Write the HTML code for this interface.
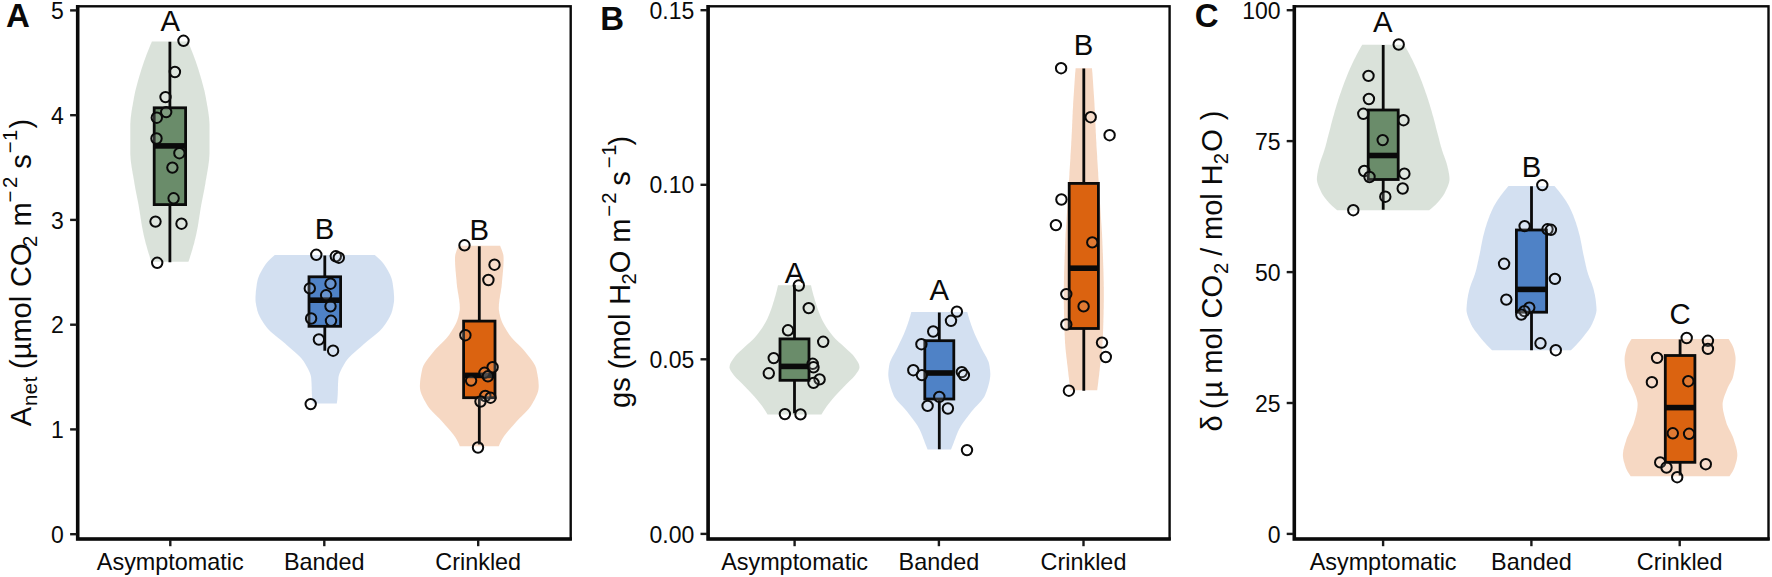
<!DOCTYPE html>
<html lang="en"><head><meta charset="utf-8"><title>Figure</title>
<style>html,body{margin:0;padding:0;background:#fff}svg{display:block}</style></head>
<body>
<svg width="1772" height="577" viewBox="0 0 1772 577" font-family="'Liberation Sans', Arial, sans-serif" fill="#0a0a0a">
<rect width="1772" height="577" fill="#fff"/>
<path d="M187.9,41.4 L188.5,42.9 L189.2,44.4 L189.8,45.9 L190.4,47.4 L191.0,48.9 L191.6,50.4 L192.2,51.9 L192.8,53.4 L193.4,54.9 L193.9,56.4 L194.5,57.9 L195.0,59.4 L195.6,60.9 L196.1,62.4 L196.6,63.9 L197.1,65.4 L197.6,66.9 L198.1,68.4 L198.6,69.9 L199.0,71.4 L199.5,72.9 L199.9,74.4 L200.4,75.9 L200.8,77.4 L201.3,78.9 L201.7,80.4 L202.1,81.9 L202.5,83.4 L202.9,84.9 L203.3,86.4 L203.7,87.9 L204.1,89.4 L204.5,90.9 L204.8,92.4 L205.1,93.9 L205.4,95.4 L205.7,96.9 L206.0,98.4 L206.2,99.9 L206.5,101.4 L206.8,102.9 L207.0,104.4 L207.3,105.9 L207.6,107.4 L207.8,108.9 L208.1,110.4 L208.3,111.9 L208.5,113.4 L208.7,114.9 L208.9,116.4 L209.1,117.9 L209.2,119.4 L209.3,120.9 L209.4,122.4 L209.5,123.9 L209.5,125.4 L209.5,126.9 L209.5,128.4 L209.5,129.9 L209.5,131.4 L209.5,132.9 L209.5,134.4 L209.5,135.9 L209.5,137.4 L209.5,138.9 L209.5,140.4 L209.5,141.9 L209.5,143.4 L209.5,144.9 L209.5,146.4 L209.5,147.9 L209.5,149.4 L209.5,150.9 L209.5,152.4 L209.5,153.9 L209.4,155.4 L209.3,156.9 L209.2,158.4 L209.1,159.9 L208.9,161.4 L208.7,162.9 L208.5,164.4 L208.3,165.9 L208.1,167.4 L207.8,168.9 L207.6,170.4 L207.3,171.9 L207.1,173.4 L206.8,174.9 L206.5,176.4 L206.3,177.9 L206.0,179.4 L205.7,180.9 L205.5,182.4 L205.3,183.9 L205.0,185.4 L204.7,186.9 L204.5,188.4 L204.2,189.9 L203.9,191.4 L203.6,192.9 L203.3,194.4 L203.0,195.9 L202.7,197.4 L202.4,198.9 L202.1,200.4 L201.8,201.9 L201.5,203.4 L201.2,204.9 L201.0,206.4 L200.7,207.9 L200.5,209.4 L200.2,210.9 L200.0,212.4 L199.8,213.9 L199.5,215.4 L199.3,216.9 L199.1,218.4 L198.8,219.9 L198.6,221.4 L198.4,222.9 L198.1,224.4 L197.9,225.9 L197.6,227.4 L197.3,228.9 L197.0,230.4 L196.7,231.9 L196.4,233.4 L196.1,234.9 L195.7,236.4 L195.4,237.9 L195.0,239.4 L194.6,240.9 L194.3,242.4 L193.9,243.9 L193.4,245.4 L193.0,246.9 L192.6,248.4 L192.2,249.9 L191.7,251.4 L191.3,252.9 L190.8,254.4 L190.3,255.9 L189.9,257.4 L189.4,258.9 L188.9,260.4 L188.4,261.8 L151.4,261.8 L150.9,260.4 L150.4,258.9 L149.9,257.4 L149.5,255.9 L149.0,254.4 L148.5,252.9 L148.1,251.4 L147.6,249.9 L147.2,248.4 L146.8,246.9 L146.4,245.4 L145.9,243.9 L145.5,242.4 L145.2,240.9 L144.8,239.4 L144.4,237.9 L144.1,236.4 L143.7,234.9 L143.4,233.4 L143.1,231.9 L142.8,230.4 L142.5,228.9 L142.2,227.4 L141.9,225.9 L141.7,224.4 L141.4,222.9 L141.2,221.4 L141.0,219.9 L140.7,218.4 L140.5,216.9 L140.3,215.4 L140.0,213.9 L139.8,212.4 L139.6,210.9 L139.3,209.4 L139.1,207.9 L138.8,206.4 L138.6,204.9 L138.3,203.4 L138.0,201.9 L137.7,200.4 L137.4,198.9 L137.1,197.4 L136.8,195.9 L136.5,194.4 L136.2,192.9 L135.9,191.4 L135.6,189.9 L135.3,188.4 L135.1,186.9 L134.8,185.4 L134.5,183.9 L134.3,182.4 L134.1,180.9 L133.8,179.4 L133.5,177.9 L133.3,176.4 L133.0,174.9 L132.7,173.4 L132.5,171.9 L132.2,170.4 L132.0,168.9 L131.7,167.4 L131.5,165.9 L131.3,164.4 L131.1,162.9 L130.9,161.4 L130.7,159.9 L130.6,158.4 L130.5,156.9 L130.4,155.4 L130.3,153.9 L130.3,152.4 L130.3,150.9 L130.3,149.4 L130.3,147.9 L130.3,146.4 L130.3,144.9 L130.3,143.4 L130.3,141.9 L130.3,140.4 L130.3,138.9 L130.3,137.4 L130.3,135.9 L130.3,134.4 L130.3,132.9 L130.3,131.4 L130.3,129.9 L130.3,128.4 L130.3,126.9 L130.3,125.4 L130.3,123.9 L130.4,122.4 L130.5,120.9 L130.6,119.4 L130.7,117.9 L130.9,116.4 L131.1,114.9 L131.3,113.4 L131.5,111.9 L131.7,110.4 L132.0,108.9 L132.2,107.4 L132.5,105.9 L132.8,104.4 L133.0,102.9 L133.3,101.4 L133.6,99.9 L133.8,98.4 L134.1,96.9 L134.4,95.4 L134.7,93.9 L135.0,92.4 L135.3,90.9 L135.7,89.4 L136.1,87.9 L136.5,86.4 L136.9,84.9 L137.3,83.4 L137.7,81.9 L138.1,80.4 L138.5,78.9 L139.0,77.4 L139.4,75.9 L139.9,74.4 L140.3,72.9 L140.8,71.4 L141.2,69.9 L141.7,68.4 L142.2,66.9 L142.7,65.4 L143.2,63.9 L143.7,62.4 L144.2,60.9 L144.8,59.4 L145.3,57.9 L145.9,56.4 L146.4,54.9 L147.0,53.4 L147.6,51.9 L148.2,50.4 L148.8,48.9 L149.4,47.4 L150.0,45.9 L150.6,44.4 L151.3,42.9 L151.9,41.4Z" fill="#6A8C6A" fill-opacity="0.25"/>
<path d="M374.8,255.1 L376.5,256.6 L378.2,258.1 L379.8,259.6 L381.3,261.1 L382.6,262.6 L383.8,264.1 L384.8,265.6 L385.8,267.1 L386.7,268.6 L387.6,270.1 L388.4,271.6 L389.2,273.1 L390.0,274.6 L390.6,276.1 L391.2,277.6 L391.7,279.1 L392.1,280.6 L392.4,282.1 L392.7,283.6 L392.9,285.1 L393.1,286.6 L393.3,288.1 L393.5,289.6 L393.7,291.1 L393.8,292.6 L393.9,294.1 L394.0,295.6 L394.1,297.1 L394.1,298.6 L394.1,300.1 L394.0,301.6 L393.8,303.1 L393.5,304.6 L393.3,306.1 L392.9,307.6 L392.6,309.1 L392.3,310.6 L391.8,312.1 L391.3,313.6 L390.6,315.1 L389.9,316.6 L389.1,318.1 L388.3,319.6 L387.3,321.1 L386.4,322.6 L385.4,324.1 L384.3,325.6 L383.2,327.1 L382.0,328.6 L380.6,330.1 L379.1,331.6 L377.4,333.1 L375.6,334.6 L373.8,336.1 L371.9,337.6 L370.0,339.1 L368.1,340.6 L366.3,342.1 L364.5,343.6 L362.9,345.1 L361.2,346.6 L359.5,348.1 L357.7,349.6 L356.0,351.1 L354.3,352.6 L352.6,354.1 L351.0,355.6 L349.5,357.1 L348.1,358.6 L346.9,360.1 L345.8,361.6 L344.9,363.1 L344.0,364.6 L343.2,366.1 L342.3,367.6 L341.5,369.1 L340.8,370.6 L340.1,372.1 L339.5,373.6 L339.0,375.1 L338.6,376.6 L338.4,378.1 L338.3,379.6 L338.2,381.1 L338.1,382.6 L338.0,384.1 L338.0,385.6 L337.9,387.1 L337.9,388.6 L337.9,390.1 L337.8,391.6 L337.8,393.1 L337.7,394.6 L337.6,396.1 L337.5,397.6 L337.4,399.1 L337.2,400.6 L337.0,402.1 L336.8,403.6 L336.8,403.6 L312.8,403.6 L312.8,403.6 L312.6,402.1 L312.4,400.6 L312.2,399.1 L312.1,397.6 L312.0,396.1 L311.9,394.6 L311.8,393.1 L311.8,391.6 L311.7,390.1 L311.7,388.6 L311.7,387.1 L311.6,385.6 L311.6,384.1 L311.5,382.6 L311.4,381.1 L311.3,379.6 L311.2,378.1 L311.0,376.6 L310.6,375.1 L310.1,373.6 L309.5,372.1 L308.8,370.6 L308.1,369.1 L307.3,367.6 L306.4,366.1 L305.6,364.6 L304.7,363.1 L303.8,361.6 L302.7,360.1 L301.5,358.6 L300.1,357.1 L298.6,355.6 L297.0,354.1 L295.3,352.6 L293.6,351.1 L291.9,349.6 L290.1,348.1 L288.4,346.6 L286.7,345.1 L285.1,343.6 L283.3,342.1 L281.5,340.6 L279.6,339.1 L277.7,337.6 L275.8,336.1 L274.0,334.6 L272.2,333.1 L270.5,331.6 L269.0,330.1 L267.6,328.6 L266.4,327.1 L265.3,325.6 L264.2,324.1 L263.2,322.6 L262.3,321.1 L261.3,319.6 L260.5,318.1 L259.7,316.6 L259.0,315.1 L258.3,313.6 L257.8,312.1 L257.3,310.6 L257.0,309.1 L256.7,307.6 L256.3,306.1 L256.1,304.6 L255.8,303.1 L255.6,301.6 L255.5,300.1 L255.5,298.6 L255.5,297.1 L255.6,295.6 L255.7,294.1 L255.8,292.6 L255.9,291.1 L256.1,289.6 L256.3,288.1 L256.5,286.6 L256.7,285.1 L256.9,283.6 L257.2,282.1 L257.5,280.6 L257.9,279.1 L258.4,277.6 L259.0,276.1 L259.6,274.6 L260.4,273.1 L261.2,271.6 L262.0,270.1 L262.9,268.6 L263.8,267.1 L264.8,265.6 L265.8,264.1 L267.0,262.6 L268.3,261.1 L269.8,259.6 L271.4,258.1 L273.1,256.6 L274.8,255.1Z" fill="#4F82C6" fill-opacity="0.25"/>
<path d="M500.1,245.8 L500.7,247.3 L501.3,248.8 L501.9,250.3 L502.4,251.8 L502.9,253.3 L503.3,254.8 L503.5,256.3 L503.6,257.8 L503.6,259.3 L503.6,260.8 L503.5,262.3 L503.5,263.8 L503.4,265.3 L503.3,266.8 L503.2,268.3 L503.1,269.8 L503.0,271.3 L502.8,272.8 L502.7,274.3 L502.6,275.8 L502.4,277.3 L502.3,278.8 L502.1,280.3 L502.0,281.8 L501.9,283.3 L501.7,284.8 L501.6,286.3 L501.4,287.8 L501.1,289.3 L500.9,290.8 L500.7,292.3 L500.4,293.8 L500.1,295.3 L499.9,296.8 L499.7,298.3 L499.4,299.8 L499.3,301.3 L499.1,302.8 L498.9,304.3 L498.9,305.8 L498.8,307.3 L498.8,308.8 L498.9,310.3 L499.2,311.8 L499.4,313.3 L499.8,314.8 L500.1,316.3 L500.5,317.8 L501.0,319.3 L501.5,320.8 L502.1,322.3 L502.8,323.8 L503.6,325.3 L504.4,326.8 L505.3,328.3 L506.2,329.8 L507.1,331.3 L508.1,332.8 L509.0,334.3 L510.1,335.8 L511.3,337.3 L512.6,338.8 L514.0,340.3 L515.5,341.8 L517.0,343.3 L518.6,344.8 L520.1,346.3 L521.6,347.8 L523.0,349.3 L524.3,350.8 L525.5,352.3 L526.7,353.8 L527.9,355.3 L529.1,356.8 L530.3,358.3 L531.4,359.8 L532.5,361.3 L533.5,362.8 L534.4,364.3 L535.2,365.8 L535.8,367.3 L536.3,368.8 L536.6,370.3 L536.9,371.8 L537.2,373.3 L537.5,374.8 L537.7,376.3 L538.0,377.8 L538.2,379.3 L538.4,380.8 L538.5,382.3 L538.6,383.8 L538.7,385.3 L538.7,386.8 L538.6,388.3 L538.4,389.8 L538.1,391.3 L537.6,392.8 L537.1,394.3 L536.4,395.8 L535.7,397.3 L535.0,398.8 L534.2,400.3 L533.3,401.8 L532.5,403.3 L531.6,404.8 L530.7,406.3 L529.6,407.8 L528.4,409.3 L527.0,410.8 L525.6,412.3 L524.1,413.8 L522.6,415.3 L521.1,416.8 L519.5,418.3 L518.1,419.8 L516.7,421.3 L515.4,422.8 L514.1,424.3 L512.8,425.8 L511.4,427.3 L510.1,428.8 L508.8,430.3 L507.5,431.8 L506.3,433.3 L505.1,434.8 L504.0,436.3 L503.0,437.8 L502.1,439.3 L501.3,440.8 L500.5,442.3 L499.8,443.8 L499.2,445.3 L498.8,446.3 L459.8,446.3 L459.4,445.3 L458.8,443.8 L458.1,442.3 L457.3,440.8 L456.5,439.3 L455.6,437.8 L454.6,436.3 L453.5,434.8 L452.3,433.3 L451.1,431.8 L449.8,430.3 L448.5,428.8 L447.2,427.3 L445.8,425.8 L444.5,424.3 L443.2,422.8 L441.9,421.3 L440.5,419.8 L439.1,418.3 L437.5,416.8 L436.0,415.3 L434.5,413.8 L433.0,412.3 L431.6,410.8 L430.2,409.3 L429.0,407.8 L427.9,406.3 L427.0,404.8 L426.1,403.3 L425.3,401.8 L424.4,400.3 L423.6,398.8 L422.9,397.3 L422.2,395.8 L421.5,394.3 L421.0,392.8 L420.5,391.3 L420.2,389.8 L420.0,388.3 L419.9,386.8 L419.9,385.3 L420.0,383.8 L420.1,382.3 L420.2,380.8 L420.4,379.3 L420.6,377.8 L420.9,376.3 L421.1,374.8 L421.4,373.3 L421.7,371.8 L422.0,370.3 L422.3,368.8 L422.8,367.3 L423.4,365.8 L424.2,364.3 L425.1,362.8 L426.1,361.3 L427.2,359.8 L428.3,358.3 L429.5,356.8 L430.7,355.3 L431.9,353.8 L433.1,352.3 L434.3,350.8 L435.6,349.3 L437.0,347.8 L438.5,346.3 L440.0,344.8 L441.6,343.3 L443.1,341.8 L444.6,340.3 L446.0,338.8 L447.3,337.3 L448.5,335.8 L449.6,334.3 L450.5,332.8 L451.5,331.3 L452.4,329.8 L453.3,328.3 L454.2,326.8 L455.0,325.3 L455.8,323.8 L456.5,322.3 L457.1,320.8 L457.6,319.3 L458.1,317.8 L458.5,316.3 L458.8,314.8 L459.2,313.3 L459.4,311.8 L459.7,310.3 L459.8,308.8 L459.8,307.3 L459.7,305.8 L459.7,304.3 L459.5,302.8 L459.3,301.3 L459.2,299.8 L458.9,298.3 L458.7,296.8 L458.5,295.3 L458.2,293.8 L457.9,292.3 L457.7,290.8 L457.5,289.3 L457.2,287.8 L457.0,286.3 L456.9,284.8 L456.7,283.3 L456.6,281.8 L456.5,280.3 L456.3,278.8 L456.2,277.3 L456.0,275.8 L455.9,274.3 L455.8,272.8 L455.6,271.3 L455.5,269.8 L455.4,268.3 L455.3,266.8 L455.2,265.3 L455.1,263.8 L455.1,262.3 L455.0,260.8 L455.0,259.3 L455.0,257.8 L455.1,256.3 L455.3,254.8 L455.7,253.3 L456.2,251.8 L456.7,250.3 L457.3,248.8 L457.9,247.3 L458.5,245.8Z" fill="#DB6310" fill-opacity="0.25"/>
<path d="M811.0,285.2 L811.3,286.7 L811.7,288.2 L812.0,289.7 L812.4,291.2 L812.8,292.7 L813.2,294.2 L813.6,295.7 L814.1,297.2 L814.5,298.7 L814.9,300.2 L815.4,301.7 L815.9,303.2 L816.3,304.7 L816.8,306.2 L817.3,307.7 L817.8,309.2 L818.4,310.7 L818.9,312.2 L819.5,313.7 L820.1,315.2 L820.8,316.7 L821.4,318.2 L822.1,319.7 L822.9,321.2 L823.7,322.7 L824.6,324.2 L825.5,325.7 L826.4,327.2 L827.4,328.7 L828.5,330.2 L829.6,331.7 L830.7,333.2 L831.9,334.7 L833.1,336.2 L834.4,337.7 L835.8,339.2 L837.4,340.7 L839.0,342.2 L840.8,343.7 L842.5,345.2 L844.1,346.7 L845.7,348.2 L847.3,349.7 L849.0,351.2 L850.6,352.7 L852.2,354.2 L853.5,355.7 L854.6,357.2 L855.7,358.7 L856.7,360.2 L857.7,361.7 L858.5,363.2 L859.1,364.7 L859.4,366.2 L859.5,367.7 L859.0,369.2 L858.3,370.7 L857.3,372.2 L856.2,373.7 L855.1,375.2 L853.9,376.7 L852.5,378.2 L850.9,379.7 L849.3,381.2 L847.8,382.7 L846.3,384.2 L844.9,385.7 L843.4,387.2 L842.0,388.7 L840.5,390.2 L839.1,391.7 L837.7,393.2 L836.3,394.7 L834.9,396.2 L833.6,397.7 L832.3,399.2 L831.1,400.7 L829.9,402.2 L828.7,403.7 L827.5,405.2 L826.4,406.7 L825.4,408.2 L824.4,409.7 L823.4,411.2 L822.5,412.7 L821.6,414.2 L821.5,414.4 L767.5,414.4 L767.4,414.2 L766.5,412.7 L765.6,411.2 L764.6,409.7 L763.6,408.2 L762.6,406.7 L761.5,405.2 L760.3,403.7 L759.1,402.2 L757.9,400.7 L756.7,399.2 L755.4,397.7 L754.1,396.2 L752.7,394.7 L751.3,393.2 L749.9,391.7 L748.5,390.2 L747.0,388.7 L745.6,387.2 L744.1,385.7 L742.7,384.2 L741.2,382.7 L739.7,381.2 L738.1,379.7 L736.5,378.2 L735.1,376.7 L733.9,375.2 L732.8,373.7 L731.7,372.2 L730.7,370.7 L730.0,369.2 L729.5,367.7 L729.6,366.2 L729.9,364.7 L730.5,363.2 L731.3,361.7 L732.3,360.2 L733.3,358.7 L734.4,357.2 L735.5,355.7 L736.8,354.2 L738.4,352.7 L740.0,351.2 L741.7,349.7 L743.3,348.2 L744.9,346.7 L746.5,345.2 L748.2,343.7 L750.0,342.2 L751.6,340.7 L753.2,339.2 L754.6,337.7 L755.9,336.2 L757.1,334.7 L758.3,333.2 L759.4,331.7 L760.5,330.2 L761.6,328.7 L762.6,327.2 L763.5,325.7 L764.4,324.2 L765.3,322.7 L766.1,321.2 L766.9,319.7 L767.6,318.2 L768.2,316.7 L768.9,315.2 L769.5,313.7 L770.1,312.2 L770.6,310.7 L771.2,309.2 L771.7,307.7 L772.2,306.2 L772.7,304.7 L773.1,303.2 L773.6,301.7 L774.1,300.2 L774.5,298.7 L774.9,297.2 L775.4,295.7 L775.8,294.2 L776.2,292.7 L776.6,291.2 L777.0,289.7 L777.3,288.2 L777.7,286.7 L778.0,285.2Z" fill="#6A8C6A" fill-opacity="0.25"/>
<path d="M967.3,312.1 L967.7,313.6 L968.1,315.1 L968.5,316.6 L969.0,318.1 L969.4,319.6 L969.9,321.1 L970.4,322.6 L970.9,324.1 L971.4,325.6 L972.0,327.1 L972.5,328.6 L973.1,330.1 L973.7,331.6 L974.3,333.1 L974.9,334.6 L975.6,336.1 L976.3,337.6 L977.0,339.1 L977.7,340.6 L978.5,342.1 L979.2,343.6 L979.9,345.1 L980.6,346.6 L981.3,348.1 L982.1,349.6 L982.9,351.1 L983.7,352.6 L984.6,354.1 L985.4,355.6 L986.3,357.1 L987.0,358.6 L987.7,360.1 L988.4,361.6 L988.9,363.1 L989.2,364.6 L989.5,366.1 L989.7,367.6 L989.9,369.1 L990.1,370.6 L990.2,372.1 L990.3,373.6 L990.3,375.1 L990.2,376.6 L990.0,378.1 L989.8,379.6 L989.5,381.1 L989.2,382.6 L988.8,384.1 L988.4,385.6 L988.0,387.1 L987.5,388.6 L987.0,390.1 L986.5,391.6 L985.9,393.1 L985.3,394.6 L984.7,396.1 L983.8,397.6 L982.7,399.1 L981.6,400.6 L980.3,402.1 L978.9,403.6 L977.5,405.1 L976.0,406.6 L974.6,408.1 L973.3,409.6 L972.0,411.1 L970.8,412.6 L969.7,414.1 L968.5,415.6 L967.4,417.1 L966.2,418.6 L965.1,420.1 L964.0,421.6 L962.9,423.1 L961.9,424.6 L960.9,426.1 L960.1,427.6 L959.2,429.1 L958.5,430.6 L957.8,432.1 L957.2,433.6 L956.6,435.1 L956.0,436.6 L955.5,438.1 L954.9,439.6 L954.3,441.1 L953.8,442.6 L953.2,444.1 L952.6,445.6 L952.0,447.1 L951.4,448.6 L951.0,449.6 L927.6,449.6 L927.2,448.6 L926.6,447.1 L926.0,445.6 L925.4,444.1 L924.8,442.6 L924.3,441.1 L923.7,439.6 L923.1,438.1 L922.6,436.6 L922.0,435.1 L921.4,433.6 L920.8,432.1 L920.1,430.6 L919.4,429.1 L918.5,427.6 L917.7,426.1 L916.7,424.6 L915.7,423.1 L914.6,421.6 L913.5,420.1 L912.4,418.6 L911.2,417.1 L910.1,415.6 L908.9,414.1 L907.8,412.6 L906.6,411.1 L905.3,409.6 L904.0,408.1 L902.6,406.6 L901.1,405.1 L899.7,403.6 L898.3,402.1 L897.0,400.6 L895.9,399.1 L894.8,397.6 L893.9,396.1 L893.3,394.6 L892.7,393.1 L892.1,391.6 L891.6,390.1 L891.1,388.6 L890.6,387.1 L890.2,385.6 L889.8,384.1 L889.4,382.6 L889.1,381.1 L888.8,379.6 L888.6,378.1 L888.4,376.6 L888.3,375.1 L888.3,373.6 L888.4,372.1 L888.5,370.6 L888.7,369.1 L888.9,367.6 L889.1,366.1 L889.4,364.6 L889.7,363.1 L890.2,361.6 L890.9,360.1 L891.6,358.6 L892.3,357.1 L893.2,355.6 L894.0,354.1 L894.9,352.6 L895.7,351.1 L896.5,349.6 L897.3,348.1 L898.0,346.6 L898.7,345.1 L899.4,343.6 L900.1,342.1 L900.9,340.6 L901.6,339.1 L902.3,337.6 L903.0,336.1 L903.7,334.6 L904.3,333.1 L904.9,331.6 L905.5,330.1 L906.1,328.6 L906.6,327.1 L907.2,325.6 L907.7,324.1 L908.2,322.6 L908.7,321.1 L909.2,319.6 L909.6,318.1 L910.1,316.6 L910.5,315.1 L910.9,313.6 L911.3,312.1Z" fill="#4F82C6" fill-opacity="0.25"/>
<path d="M1092.0,68.2 L1092.1,69.7 L1092.2,71.2 L1092.4,72.7 L1092.5,74.2 L1092.6,75.7 L1092.7,77.2 L1092.8,78.7 L1092.9,80.2 L1093.0,81.7 L1093.1,83.2 L1093.2,84.7 L1093.3,86.2 L1093.4,87.7 L1093.5,89.2 L1093.6,90.7 L1093.7,92.2 L1093.8,93.7 L1093.9,95.2 L1094.0,96.7 L1094.1,98.2 L1094.2,99.7 L1094.3,101.2 L1094.4,102.7 L1094.5,104.2 L1094.5,105.7 L1094.6,107.2 L1094.7,108.7 L1094.8,110.2 L1094.9,111.7 L1094.9,113.2 L1095.0,114.7 L1095.1,116.2 L1095.1,117.7 L1095.2,119.2 L1095.3,120.7 L1095.3,122.2 L1095.4,123.7 L1095.5,125.2 L1095.5,126.7 L1095.6,128.2 L1095.7,129.7 L1095.7,131.2 L1095.8,132.7 L1095.9,134.2 L1096.0,135.7 L1096.0,137.2 L1096.1,138.7 L1096.2,140.2 L1096.3,141.7 L1096.4,143.2 L1096.4,144.7 L1096.5,146.2 L1096.6,147.7 L1096.7,149.2 L1096.8,150.7 L1096.9,152.2 L1097.0,153.7 L1097.1,155.2 L1097.2,156.7 L1097.2,158.2 L1097.3,159.7 L1097.4,161.2 L1097.5,162.7 L1097.6,164.2 L1097.7,165.7 L1097.8,167.2 L1097.9,168.7 L1098.0,170.2 L1098.1,171.7 L1098.2,173.2 L1098.2,174.7 L1098.3,176.2 L1098.4,177.7 L1098.5,179.2 L1098.6,180.7 L1098.7,182.2 L1098.8,183.7 L1098.9,185.2 L1099.0,186.7 L1099.1,188.2 L1099.2,189.7 L1099.3,191.2 L1099.3,192.7 L1099.4,194.2 L1099.5,195.7 L1099.6,197.2 L1099.7,198.7 L1099.8,200.2 L1099.9,201.7 L1100.0,203.2 L1100.1,204.7 L1100.2,206.2 L1100.3,207.7 L1100.4,209.2 L1100.5,210.7 L1100.6,212.2 L1100.7,213.7 L1100.8,215.2 L1100.9,216.7 L1101.0,218.2 L1101.1,219.7 L1101.2,221.2 L1101.3,222.7 L1101.4,224.2 L1101.5,225.7 L1101.6,227.2 L1101.7,228.7 L1101.8,230.2 L1101.9,231.7 L1102.0,233.2 L1102.1,234.7 L1102.1,236.2 L1102.2,237.7 L1102.3,239.2 L1102.3,240.7 L1102.4,242.2 L1102.4,243.7 L1102.5,245.2 L1102.6,246.7 L1102.6,248.2 L1102.7,249.7 L1102.7,251.2 L1102.8,252.7 L1102.9,254.2 L1102.9,255.7 L1103.0,257.2 L1103.0,258.7 L1103.1,260.2 L1103.1,261.7 L1103.2,263.2 L1103.2,264.7 L1103.3,266.2 L1103.3,267.7 L1103.4,269.2 L1103.4,270.7 L1103.5,272.2 L1103.5,273.7 L1103.5,275.2 L1103.6,276.7 L1103.6,278.2 L1103.6,279.7 L1103.7,281.2 L1103.7,282.7 L1103.7,284.2 L1103.7,285.7 L1103.8,287.2 L1103.8,288.7 L1103.8,290.2 L1103.8,291.7 L1103.8,293.2 L1103.8,294.7 L1103.8,296.2 L1103.8,297.7 L1103.8,299.2 L1103.8,300.7 L1103.8,302.2 L1103.7,303.7 L1103.7,305.2 L1103.7,306.7 L1103.7,308.2 L1103.6,309.7 L1103.6,311.2 L1103.6,312.7 L1103.6,314.2 L1103.5,315.7 L1103.5,317.2 L1103.4,318.7 L1103.4,320.2 L1103.4,321.7 L1103.3,323.2 L1103.3,324.7 L1103.2,326.2 L1103.2,327.7 L1103.1,329.2 L1103.1,330.7 L1103.0,332.2 L1103.0,333.7 L1102.9,335.2 L1102.8,336.7 L1102.8,338.2 L1102.7,339.7 L1102.6,341.2 L1102.6,342.7 L1102.4,344.2 L1102.3,345.7 L1102.2,347.2 L1102.1,348.7 L1101.9,350.2 L1101.8,351.7 L1101.6,353.2 L1101.4,354.7 L1101.3,356.2 L1101.1,357.7 L1100.9,359.2 L1100.7,360.7 L1100.6,362.2 L1100.4,363.7 L1100.2,365.2 L1100.0,366.7 L1099.8,368.2 L1099.7,369.7 L1099.5,371.2 L1099.3,372.7 L1099.2,374.2 L1099.0,375.7 L1098.8,377.2 L1098.6,378.7 L1098.4,380.2 L1098.3,381.7 L1098.1,383.2 L1097.9,384.7 L1097.7,386.2 L1097.5,387.7 L1097.3,389.2 L1097.2,390.2 L1070.4,390.2 L1070.3,389.2 L1070.1,387.7 L1069.9,386.2 L1069.7,384.7 L1069.5,383.2 L1069.3,381.7 L1069.2,380.2 L1069.0,378.7 L1068.8,377.2 L1068.6,375.7 L1068.4,374.2 L1068.3,372.7 L1068.1,371.2 L1067.9,369.7 L1067.8,368.2 L1067.6,366.7 L1067.4,365.2 L1067.2,363.7 L1067.0,362.2 L1066.9,360.7 L1066.7,359.2 L1066.5,357.7 L1066.3,356.2 L1066.2,354.7 L1066.0,353.2 L1065.8,351.7 L1065.7,350.2 L1065.5,348.7 L1065.4,347.2 L1065.3,345.7 L1065.2,344.2 L1065.0,342.7 L1065.0,341.2 L1064.9,339.7 L1064.8,338.2 L1064.8,336.7 L1064.7,335.2 L1064.6,333.7 L1064.6,332.2 L1064.5,330.7 L1064.5,329.2 L1064.4,327.7 L1064.4,326.2 L1064.3,324.7 L1064.3,323.2 L1064.2,321.7 L1064.2,320.2 L1064.2,318.7 L1064.1,317.2 L1064.1,315.7 L1064.0,314.2 L1064.0,312.7 L1064.0,311.2 L1064.0,309.7 L1063.9,308.2 L1063.9,306.7 L1063.9,305.2 L1063.9,303.7 L1063.8,302.2 L1063.8,300.7 L1063.8,299.2 L1063.8,297.7 L1063.8,296.2 L1063.8,294.7 L1063.8,293.2 L1063.8,291.7 L1063.8,290.2 L1063.8,288.7 L1063.8,287.2 L1063.9,285.7 L1063.9,284.2 L1063.9,282.7 L1063.9,281.2 L1064.0,279.7 L1064.0,278.2 L1064.0,276.7 L1064.1,275.2 L1064.1,273.7 L1064.1,272.2 L1064.2,270.7 L1064.2,269.2 L1064.3,267.7 L1064.3,266.2 L1064.4,264.7 L1064.4,263.2 L1064.5,261.7 L1064.5,260.2 L1064.6,258.7 L1064.6,257.2 L1064.7,255.7 L1064.7,254.2 L1064.8,252.7 L1064.9,251.2 L1064.9,249.7 L1065.0,248.2 L1065.0,246.7 L1065.1,245.2 L1065.2,243.7 L1065.2,242.2 L1065.3,240.7 L1065.3,239.2 L1065.4,237.7 L1065.5,236.2 L1065.5,234.7 L1065.6,233.2 L1065.7,231.7 L1065.8,230.2 L1065.9,228.7 L1066.0,227.2 L1066.1,225.7 L1066.2,224.2 L1066.3,222.7 L1066.4,221.2 L1066.5,219.7 L1066.6,218.2 L1066.7,216.7 L1066.8,215.2 L1066.9,213.7 L1067.0,212.2 L1067.1,210.7 L1067.2,209.2 L1067.3,207.7 L1067.4,206.2 L1067.5,204.7 L1067.6,203.2 L1067.7,201.7 L1067.8,200.2 L1067.9,198.7 L1068.0,197.2 L1068.1,195.7 L1068.2,194.2 L1068.3,192.7 L1068.3,191.2 L1068.4,189.7 L1068.5,188.2 L1068.6,186.7 L1068.7,185.2 L1068.8,183.7 L1068.9,182.2 L1069.0,180.7 L1069.1,179.2 L1069.2,177.7 L1069.3,176.2 L1069.4,174.7 L1069.4,173.2 L1069.5,171.7 L1069.6,170.2 L1069.7,168.7 L1069.8,167.2 L1069.9,165.7 L1070.0,164.2 L1070.1,162.7 L1070.2,161.2 L1070.3,159.7 L1070.4,158.2 L1070.4,156.7 L1070.5,155.2 L1070.6,153.7 L1070.7,152.2 L1070.8,150.7 L1070.9,149.2 L1071.0,147.7 L1071.1,146.2 L1071.2,144.7 L1071.2,143.2 L1071.3,141.7 L1071.4,140.2 L1071.5,138.7 L1071.6,137.2 L1071.6,135.7 L1071.7,134.2 L1071.8,132.7 L1071.9,131.2 L1071.9,129.7 L1072.0,128.2 L1072.1,126.7 L1072.1,125.2 L1072.2,123.7 L1072.3,122.2 L1072.3,120.7 L1072.4,119.2 L1072.5,117.7 L1072.5,116.2 L1072.6,114.7 L1072.7,113.2 L1072.7,111.7 L1072.8,110.2 L1072.9,108.7 L1073.0,107.2 L1073.1,105.7 L1073.1,104.2 L1073.2,102.7 L1073.3,101.2 L1073.4,99.7 L1073.5,98.2 L1073.6,96.7 L1073.7,95.2 L1073.8,93.7 L1073.9,92.2 L1074.0,90.7 L1074.1,89.2 L1074.2,87.7 L1074.3,86.2 L1074.4,84.7 L1074.5,83.2 L1074.6,81.7 L1074.7,80.2 L1074.8,78.7 L1074.9,77.2 L1075.0,75.7 L1075.1,74.2 L1075.2,72.7 L1075.4,71.2 L1075.5,69.7 L1075.6,68.2Z" fill="#DB6310" fill-opacity="0.25"/>
<path d="M1404.2,44.7 L1405.1,46.2 L1405.9,47.7 L1406.7,49.2 L1407.6,50.7 L1408.4,52.2 L1409.2,53.7 L1410.0,55.2 L1410.7,56.7 L1411.5,58.2 L1412.3,59.7 L1413.0,61.2 L1413.7,62.7 L1414.4,64.2 L1415.1,65.7 L1415.8,67.2 L1416.5,68.7 L1417.1,70.2 L1417.8,71.7 L1418.4,73.2 L1419.0,74.7 L1419.6,76.2 L1420.2,77.7 L1420.8,79.2 L1421.4,80.7 L1422.0,82.2 L1422.5,83.7 L1423.1,85.2 L1423.6,86.7 L1424.2,88.2 L1424.7,89.7 L1425.2,91.2 L1425.7,92.7 L1426.3,94.2 L1426.8,95.7 L1427.3,97.2 L1427.8,98.7 L1428.3,100.2 L1428.7,101.7 L1429.2,103.2 L1429.7,104.7 L1430.1,106.2 L1430.6,107.7 L1431.0,109.2 L1431.5,110.7 L1431.9,112.2 L1432.3,113.7 L1432.7,115.2 L1433.2,116.7 L1433.6,118.2 L1434.0,119.7 L1434.4,121.2 L1434.8,122.7 L1435.2,124.2 L1435.6,125.7 L1435.9,127.2 L1436.3,128.7 L1436.7,130.2 L1437.1,131.7 L1437.5,133.2 L1437.9,134.7 L1438.3,136.2 L1438.7,137.7 L1439.1,139.2 L1439.4,140.7 L1439.8,142.2 L1440.2,143.7 L1440.6,145.2 L1441.0,146.7 L1441.5,148.2 L1441.9,149.7 L1442.4,151.2 L1442.9,152.7 L1443.4,154.2 L1444.0,155.7 L1444.5,157.2 L1445.1,158.7 L1445.6,160.2 L1446.1,161.7 L1446.6,163.2 L1447.0,164.7 L1447.4,166.2 L1447.7,167.7 L1448.1,169.2 L1448.4,170.7 L1448.7,172.2 L1449.0,173.7 L1449.2,175.2 L1449.4,176.7 L1449.5,178.2 L1449.5,179.7 L1449.3,181.2 L1449.0,182.7 L1448.5,184.2 L1448.0,185.7 L1447.4,187.2 L1446.7,188.7 L1446.0,190.2 L1445.3,191.7 L1444.6,193.2 L1443.7,194.7 L1442.7,196.2 L1441.6,197.7 L1440.4,199.2 L1439.2,200.7 L1437.9,202.2 L1436.5,203.7 L1435.0,205.2 L1433.3,206.7 L1431.6,208.2 L1429.8,209.7 L1429.2,210.2 L1337.2,210.2 L1336.6,209.7 L1334.8,208.2 L1333.1,206.7 L1331.4,205.2 L1329.9,203.7 L1328.5,202.2 L1327.2,200.7 L1326.0,199.2 L1324.8,197.7 L1323.7,196.2 L1322.7,194.7 L1321.8,193.2 L1321.1,191.7 L1320.4,190.2 L1319.7,188.7 L1319.0,187.2 L1318.4,185.7 L1317.9,184.2 L1317.4,182.7 L1317.1,181.2 L1316.9,179.7 L1316.9,178.2 L1317.0,176.7 L1317.2,175.2 L1317.4,173.7 L1317.7,172.2 L1318.0,170.7 L1318.3,169.2 L1318.7,167.7 L1319.0,166.2 L1319.4,164.7 L1319.8,163.2 L1320.3,161.7 L1320.8,160.2 L1321.3,158.7 L1321.9,157.2 L1322.4,155.7 L1323.0,154.2 L1323.5,152.7 L1324.0,151.2 L1324.5,149.7 L1324.9,148.2 L1325.4,146.7 L1325.8,145.2 L1326.2,143.7 L1326.6,142.2 L1327.0,140.7 L1327.3,139.2 L1327.7,137.7 L1328.1,136.2 L1328.5,134.7 L1328.9,133.2 L1329.3,131.7 L1329.7,130.2 L1330.1,128.7 L1330.5,127.2 L1330.8,125.7 L1331.2,124.2 L1331.6,122.7 L1332.0,121.2 L1332.4,119.7 L1332.8,118.2 L1333.2,116.7 L1333.7,115.2 L1334.1,113.7 L1334.5,112.2 L1334.9,110.7 L1335.4,109.2 L1335.8,107.7 L1336.3,106.2 L1336.7,104.7 L1337.2,103.2 L1337.7,101.7 L1338.1,100.2 L1338.6,98.7 L1339.1,97.2 L1339.6,95.7 L1340.1,94.2 L1340.7,92.7 L1341.2,91.2 L1341.7,89.7 L1342.2,88.2 L1342.8,86.7 L1343.3,85.2 L1343.9,83.7 L1344.4,82.2 L1345.0,80.7 L1345.6,79.2 L1346.2,77.7 L1346.8,76.2 L1347.4,74.7 L1348.0,73.2 L1348.6,71.7 L1349.3,70.2 L1349.9,68.7 L1350.6,67.2 L1351.3,65.7 L1352.0,64.2 L1352.7,62.7 L1353.4,61.2 L1354.1,59.7 L1354.9,58.2 L1355.7,56.7 L1356.4,55.2 L1357.2,53.7 L1358.0,52.2 L1358.8,50.7 L1359.7,49.2 L1360.5,47.7 L1361.3,46.2 L1362.2,44.7Z" fill="#6A8C6A" fill-opacity="0.25"/>
<path d="M1554.5,185.9 L1555.8,187.4 L1557.0,188.9 L1558.3,190.4 L1559.5,191.9 L1560.6,193.4 L1561.8,194.9 L1562.9,196.4 L1563.9,197.9 L1565.0,199.4 L1566.0,200.9 L1566.9,202.4 L1567.8,203.9 L1568.7,205.4 L1569.5,206.9 L1570.2,208.4 L1570.9,209.9 L1571.6,211.4 L1572.2,212.9 L1572.9,214.4 L1573.5,215.9 L1574.0,217.4 L1574.6,218.9 L1575.1,220.4 L1575.7,221.9 L1576.2,223.4 L1576.6,224.9 L1577.1,226.4 L1577.6,227.9 L1578.0,229.4 L1578.4,230.9 L1578.8,232.4 L1579.2,233.9 L1579.6,235.4 L1580.0,236.9 L1580.3,238.4 L1580.6,239.9 L1580.9,241.4 L1581.2,242.9 L1581.5,244.4 L1581.8,245.9 L1582.1,247.4 L1582.3,248.9 L1582.6,250.4 L1582.9,251.9 L1583.2,253.4 L1583.5,254.9 L1583.9,256.4 L1584.2,257.9 L1584.5,259.4 L1584.8,260.9 L1585.2,262.4 L1585.5,263.9 L1585.8,265.4 L1586.2,266.9 L1586.5,268.4 L1586.9,269.9 L1587.3,271.4 L1587.8,272.9 L1588.2,274.4 L1588.8,275.9 L1589.3,277.4 L1589.9,278.9 L1590.5,280.4 L1591.1,281.9 L1591.7,283.4 L1592.2,284.9 L1592.7,286.4 L1593.2,287.9 L1593.6,289.4 L1594.0,290.9 L1594.3,292.4 L1594.7,293.9 L1595.0,295.4 L1595.2,296.9 L1595.5,298.4 L1595.7,299.9 L1595.9,301.4 L1596.0,302.9 L1596.2,304.4 L1596.3,305.9 L1596.4,307.4 L1596.5,308.9 L1596.5,310.4 L1596.3,311.9 L1596.0,313.4 L1595.6,314.9 L1595.1,316.4 L1594.6,317.9 L1594.0,319.4 L1593.4,320.9 L1592.7,322.4 L1592.1,323.9 L1591.3,325.4 L1590.5,326.9 L1589.5,328.4 L1588.5,329.9 L1587.4,331.4 L1586.2,332.9 L1585.0,334.4 L1583.9,335.9 L1582.7,337.4 L1581.5,338.9 L1580.2,340.4 L1578.9,341.9 L1577.5,343.4 L1576.2,344.9 L1574.7,346.4 L1573.2,347.9 L1571.7,349.4 L1570.9,350.2 L1492.1,350.2 L1491.3,349.4 L1489.8,347.9 L1488.3,346.4 L1486.8,344.9 L1485.5,343.4 L1484.1,341.9 L1482.8,340.4 L1481.5,338.9 L1480.3,337.4 L1479.1,335.9 L1478.0,334.4 L1476.8,332.9 L1475.6,331.4 L1474.5,329.9 L1473.5,328.4 L1472.5,326.9 L1471.7,325.4 L1470.9,323.9 L1470.3,322.4 L1469.6,320.9 L1469.0,319.4 L1468.4,317.9 L1467.9,316.4 L1467.4,314.9 L1467.0,313.4 L1466.7,311.9 L1466.5,310.4 L1466.5,308.9 L1466.6,307.4 L1466.7,305.9 L1466.8,304.4 L1467.0,302.9 L1467.1,301.4 L1467.3,299.9 L1467.5,298.4 L1467.8,296.9 L1468.0,295.4 L1468.3,293.9 L1468.7,292.4 L1469.0,290.9 L1469.4,289.4 L1469.8,287.9 L1470.3,286.4 L1470.8,284.9 L1471.3,283.4 L1471.9,281.9 L1472.5,280.4 L1473.1,278.9 L1473.7,277.4 L1474.2,275.9 L1474.8,274.4 L1475.2,272.9 L1475.7,271.4 L1476.1,269.9 L1476.5,268.4 L1476.8,266.9 L1477.2,265.4 L1477.5,263.9 L1477.8,262.4 L1478.2,260.9 L1478.5,259.4 L1478.8,257.9 L1479.1,256.4 L1479.5,254.9 L1479.8,253.4 L1480.1,251.9 L1480.4,250.4 L1480.7,248.9 L1480.9,247.4 L1481.2,245.9 L1481.5,244.4 L1481.8,242.9 L1482.1,241.4 L1482.4,239.9 L1482.7,238.4 L1483.0,236.9 L1483.4,235.4 L1483.8,233.9 L1484.2,232.4 L1484.6,230.9 L1485.0,229.4 L1485.4,227.9 L1485.9,226.4 L1486.4,224.9 L1486.8,223.4 L1487.3,221.9 L1487.9,220.4 L1488.4,218.9 L1489.0,217.4 L1489.5,215.9 L1490.1,214.4 L1490.8,212.9 L1491.4,211.4 L1492.1,209.9 L1492.8,208.4 L1493.5,206.9 L1494.3,205.4 L1495.2,203.9 L1496.1,202.4 L1497.0,200.9 L1498.0,199.4 L1499.1,197.9 L1500.1,196.4 L1501.2,194.9 L1502.4,193.4 L1503.5,191.9 L1504.7,190.4 L1506.0,188.9 L1507.2,187.4 L1508.5,185.9Z" fill="#4F82C6" fill-opacity="0.25"/>
<path d="M1728.6,339.0 L1729.6,340.5 L1730.5,342.0 L1731.4,343.5 L1732.2,345.0 L1732.9,346.5 L1733.5,348.0 L1734.0,349.5 L1734.3,351.0 L1734.7,352.5 L1735.0,354.0 L1735.3,355.5 L1735.5,357.0 L1735.6,358.5 L1735.6,360.0 L1735.5,361.5 L1735.4,363.0 L1735.3,364.5 L1735.1,366.0 L1734.9,367.5 L1734.7,369.0 L1734.4,370.5 L1734.1,372.0 L1733.8,373.5 L1733.5,375.0 L1733.1,376.5 L1732.7,378.0 L1732.1,379.5 L1731.3,381.0 L1730.5,382.5 L1729.6,384.0 L1728.8,385.5 L1728.0,387.0 L1727.4,388.5 L1726.8,390.0 L1726.2,391.5 L1725.6,393.0 L1725.0,394.5 L1724.4,396.0 L1723.9,397.5 L1723.5,399.0 L1723.1,400.5 L1722.8,402.0 L1722.6,403.5 L1722.6,405.0 L1722.7,406.5 L1722.8,408.0 L1723.0,409.5 L1723.2,411.0 L1723.6,412.5 L1723.9,414.0 L1724.3,415.5 L1724.7,417.0 L1725.1,418.5 L1725.5,420.0 L1726.0,421.5 L1726.4,423.0 L1726.9,424.5 L1727.6,426.0 L1728.3,427.5 L1729.0,429.0 L1729.8,430.5 L1730.6,432.0 L1731.3,433.5 L1732.0,435.0 L1732.7,436.5 L1733.3,438.0 L1733.8,439.5 L1734.2,441.0 L1734.7,442.5 L1735.2,444.0 L1735.6,445.5 L1736.1,447.0 L1736.4,448.5 L1736.8,450.0 L1737.0,451.5 L1737.2,453.0 L1737.3,454.5 L1737.3,456.0 L1737.1,457.5 L1736.9,459.0 L1736.6,460.5 L1736.2,462.0 L1735.7,463.5 L1735.3,465.0 L1734.8,466.5 L1734.3,468.0 L1733.6,469.5 L1732.9,471.0 L1732.0,472.5 L1731.0,474.0 L1730.0,475.5 L1729.5,476.3 L1630.7,476.3 L1630.2,475.5 L1629.2,474.0 L1628.2,472.5 L1627.3,471.0 L1626.6,469.5 L1625.9,468.0 L1625.4,466.5 L1624.9,465.0 L1624.5,463.5 L1624.0,462.0 L1623.6,460.5 L1623.3,459.0 L1623.1,457.5 L1622.9,456.0 L1622.9,454.5 L1623.0,453.0 L1623.2,451.5 L1623.4,450.0 L1623.8,448.5 L1624.1,447.0 L1624.6,445.5 L1625.0,444.0 L1625.5,442.5 L1626.0,441.0 L1626.4,439.5 L1626.9,438.0 L1627.5,436.5 L1628.2,435.0 L1628.9,433.5 L1629.6,432.0 L1630.4,430.5 L1631.2,429.0 L1631.9,427.5 L1632.6,426.0 L1633.3,424.5 L1633.8,423.0 L1634.2,421.5 L1634.7,420.0 L1635.1,418.5 L1635.5,417.0 L1635.9,415.5 L1636.3,414.0 L1636.6,412.5 L1637.0,411.0 L1637.2,409.5 L1637.4,408.0 L1637.5,406.5 L1637.6,405.0 L1637.6,403.5 L1637.4,402.0 L1637.1,400.5 L1636.7,399.0 L1636.3,397.5 L1635.8,396.0 L1635.2,394.5 L1634.6,393.0 L1634.0,391.5 L1633.4,390.0 L1632.8,388.5 L1632.2,387.0 L1631.4,385.5 L1630.6,384.0 L1629.7,382.5 L1628.9,381.0 L1628.1,379.5 L1627.5,378.0 L1627.1,376.5 L1626.7,375.0 L1626.4,373.5 L1626.1,372.0 L1625.8,370.5 L1625.5,369.0 L1625.3,367.5 L1625.1,366.0 L1624.9,364.5 L1624.8,363.0 L1624.7,361.5 L1624.6,360.0 L1624.6,358.5 L1624.7,357.0 L1624.9,355.5 L1625.2,354.0 L1625.5,352.5 L1625.9,351.0 L1626.2,349.5 L1626.7,348.0 L1627.3,346.5 L1628.0,345.0 L1628.8,343.5 L1629.7,342.0 L1630.6,340.5 L1631.6,339.0Z" fill="#DB6310" fill-opacity="0.25"/>
<g stroke="#0a0a0a" stroke-width="2.8" fill="none">
<path d="M169.9,41.7V107.8M169.9,204.6V262.3"/>
<rect x="154.2" y="107.8" width="31.4" height="96.8" fill="#6A8C6A" stroke-linejoin="miter"/>
<path d="M154.2,145.9H185.6" stroke-width="5.6"/>
</g>
<g stroke="#0a0a0a" stroke-width="2.8" fill="none">
<path d="M324.8,255.6V276.8M324.8,326.3V350.7"/>
<rect x="309.0" y="276.8" width="31.6" height="49.5" fill="#4F82C6" stroke-linejoin="miter"/>
<path d="M309.0,300.2H340.6" stroke-width="5.6"/>
</g>
<g stroke="#0a0a0a" stroke-width="2.8" fill="none">
<path d="M479.3,246.2V321.1M479.3,397.7V444.5"/>
<rect x="463.6" y="321.1" width="31.4" height="76.6" fill="#DB6310" stroke-linejoin="miter"/>
<path d="M463.6,375.4H495.0" stroke-width="5.6"/>
</g>
<g stroke="#0a0a0a" stroke-width="2.8" fill="none">
<path d="M794.5,284.7V338.9M794.5,380.3V413.2"/>
<rect x="780.0" y="338.9" width="29.0" height="41.4" fill="#6A8C6A" stroke-linejoin="miter"/>
<path d="M780.0,366.4H809.0" stroke-width="5.6"/>
</g>
<g stroke="#0a0a0a" stroke-width="2.8" fill="none">
<path d="M939.3,312.5V340.7M939.3,399.0V449.3"/>
<rect x="924.8" y="340.7" width="29.0" height="58.3" fill="#4F82C6" stroke-linejoin="miter"/>
<path d="M924.8,373.0H953.8" stroke-width="5.6"/>
</g>
<g stroke="#0a0a0a" stroke-width="2.8" fill="none">
<path d="M1083.8,68.6V183.4M1083.8,328.5V390.7"/>
<rect x="1069.2" y="183.4" width="29.2" height="145.1" fill="#DB6310" stroke-linejoin="miter"/>
<path d="M1069.2,268.2H1098.4" stroke-width="5.6"/>
</g>
<g stroke="#0a0a0a" stroke-width="2.8" fill="none">
<path d="M1383.2,45.1V110.0M1383.2,179.5V209.8"/>
<rect x="1368.2" y="110.0" width="30.0" height="69.5" fill="#6A8C6A" stroke-linejoin="miter"/>
<path d="M1368.2,155.5H1398.2" stroke-width="5.6"/>
</g>
<g stroke="#0a0a0a" stroke-width="2.8" fill="none">
<path d="M1531.5,186.3V230.0M1531.5,312.2V350.2"/>
<rect x="1516.4" y="230.0" width="30.2" height="82.2" fill="#4F82C6" stroke-linejoin="miter"/>
<path d="M1516.4,289.4H1546.6" stroke-width="5.6"/>
</g>
<g stroke="#0a0a0a" stroke-width="2.8" fill="none">
<path d="M1680.1,339.4V355.5M1680.1,462.3V475.5"/>
<rect x="1665.3" y="355.5" width="29.6" height="106.8" fill="#DB6310" stroke-linejoin="miter"/>
<path d="M1665.3,407.6H1694.9" stroke-width="5.6"/>
</g>
<g stroke="#0a0a0a" stroke-width="2.0" fill="#fff" fill-opacity="0.15">
<circle cx="183.5" cy="40.8" r="5.2"/>
<circle cx="174.9" cy="72.0" r="5.2"/>
<circle cx="165.5" cy="97.1" r="5.2"/>
<circle cx="166.2" cy="112.1" r="5.2"/>
<circle cx="156.8" cy="117.7" r="5.2"/>
<circle cx="156.5" cy="138.5" r="5.2"/>
<circle cx="179.4" cy="153.2" r="5.2"/>
<circle cx="172.4" cy="167.6" r="5.2"/>
<circle cx="173.6" cy="198.3" r="5.2"/>
<circle cx="155.5" cy="221.6" r="5.2"/>
<circle cx="181.5" cy="223.7" r="5.2"/>
<circle cx="157.2" cy="262.8" r="5.2"/>
</g>
<text x="170.2" y="31.0" font-size="29.3" text-anchor="middle">A</text>
<g stroke="#0a0a0a" stroke-width="2.0" fill="#fff" fill-opacity="0.15">
<circle cx="316.3" cy="254.8" r="5.2"/>
<circle cx="335.8" cy="256.3" r="5.2"/>
<circle cx="338.8" cy="257.7" r="5.2"/>
<circle cx="330.5" cy="283.7" r="5.2"/>
<circle cx="309.8" cy="288.4" r="5.2"/>
<circle cx="326.1" cy="295.3" r="5.2"/>
<circle cx="330.5" cy="306.3" r="5.2"/>
<circle cx="311.1" cy="318.5" r="5.2"/>
<circle cx="331.0" cy="320.8" r="5.2"/>
<circle cx="318.9" cy="339.5" r="5.2"/>
<circle cx="333.1" cy="350.7" r="5.2"/>
<circle cx="310.7" cy="404.1" r="5.2"/>
</g>
<text x="324.4" y="239.4" font-size="29.3" text-anchor="middle">B</text>
<g stroke="#0a0a0a" stroke-width="2.0" fill="#fff" fill-opacity="0.15">
<circle cx="464.5" cy="245.3" r="5.2"/>
<circle cx="494.5" cy="264.7" r="5.2"/>
<circle cx="488.4" cy="280.0" r="5.2"/>
<circle cx="465.4" cy="335.2" r="5.2"/>
<circle cx="492.6" cy="367.2" r="5.2"/>
<circle cx="484.5" cy="372.8" r="5.2"/>
<circle cx="487.9" cy="376.3" r="5.2"/>
<circle cx="471.1" cy="380.6" r="5.2"/>
<circle cx="485.3" cy="396.0" r="5.2"/>
<circle cx="490.5" cy="397.7" r="5.2"/>
<circle cx="480.5" cy="401.5" r="5.2"/>
<circle cx="478.0" cy="447.5" r="5.2"/>
</g>
<text x="479.3" y="239.9" font-size="29.3" text-anchor="middle">B</text>
<g stroke="#0a0a0a" stroke-width="2.0" fill="#fff" fill-opacity="0.15">
<circle cx="798.8" cy="285.5" r="5.2"/>
<circle cx="808.7" cy="308.1" r="5.2"/>
<circle cx="788.0" cy="330.3" r="5.2"/>
<circle cx="823.2" cy="341.8" r="5.2"/>
<circle cx="773.7" cy="358.1" r="5.2"/>
<circle cx="812.7" cy="363.8" r="5.2"/>
<circle cx="813.5" cy="367.3" r="5.2"/>
<circle cx="768.8" cy="373.3" r="5.2"/>
<circle cx="819.6" cy="379.4" r="5.2"/>
<circle cx="813.5" cy="382.9" r="5.2"/>
<circle cx="784.9" cy="414.1" r="5.2"/>
<circle cx="800.5" cy="414.4" r="5.2"/>
</g>
<text x="794.5" y="282.7" font-size="29.3" text-anchor="middle">A</text>
<g stroke="#0a0a0a" stroke-width="2.0" fill="#fff" fill-opacity="0.15">
<circle cx="956.9" cy="311.6" r="5.2"/>
<circle cx="951.0" cy="320.8" r="5.2"/>
<circle cx="933.2" cy="331.5" r="5.2"/>
<circle cx="921.4" cy="344.2" r="5.2"/>
<circle cx="913.3" cy="370.2" r="5.2"/>
<circle cx="921.9" cy="375.1" r="5.2"/>
<circle cx="961.8" cy="372.1" r="5.2"/>
<circle cx="963.9" cy="375.1" r="5.2"/>
<circle cx="939.3" cy="396.9" r="5.2"/>
<circle cx="927.6" cy="405.9" r="5.2"/>
<circle cx="947.9" cy="408.5" r="5.2"/>
<circle cx="967.0" cy="450.1" r="5.2"/>
</g>
<text x="939.3" y="300.1" font-size="29.3" text-anchor="middle">A</text>
<g stroke="#0a0a0a" stroke-width="2.0" fill="#fff" fill-opacity="0.15">
<circle cx="1061.1" cy="68.2" r="5.2"/>
<circle cx="1090.7" cy="117.2" r="5.2"/>
<circle cx="1109.6" cy="135.2" r="5.2"/>
<circle cx="1061.4" cy="199.5" r="5.2"/>
<circle cx="1055.9" cy="225.1" r="5.2"/>
<circle cx="1092.3" cy="242.4" r="5.2"/>
<circle cx="1066.3" cy="294.1" r="5.2"/>
<circle cx="1083.6" cy="306.4" r="5.2"/>
<circle cx="1066.3" cy="324.5" r="5.2"/>
<circle cx="1102.0" cy="342.6" r="5.2"/>
<circle cx="1105.8" cy="357.0" r="5.2"/>
<circle cx="1068.9" cy="390.7" r="5.2"/>
</g>
<text x="1083.6" y="55.3" font-size="29.3" text-anchor="middle">B</text>
<g stroke="#0a0a0a" stroke-width="2.0" fill="#fff" fill-opacity="0.15">
<circle cx="1398.7" cy="44.5" r="5.2"/>
<circle cx="1368.5" cy="75.9" r="5.2"/>
<circle cx="1368.9" cy="99.0" r="5.2"/>
<circle cx="1363.3" cy="113.8" r="5.2"/>
<circle cx="1403.5" cy="120.2" r="5.2"/>
<circle cx="1382.7" cy="140.1" r="5.2"/>
<circle cx="1364.3" cy="171.0" r="5.2"/>
<circle cx="1404.4" cy="173.7" r="5.2"/>
<circle cx="1369.5" cy="177.0" r="5.2"/>
<circle cx="1402.7" cy="188.5" r="5.2"/>
<circle cx="1385.3" cy="196.7" r="5.2"/>
<circle cx="1353.3" cy="210.2" r="5.2"/>
</g>
<text x="1382.7" y="31.8" font-size="29.3" text-anchor="middle">A</text>
<g stroke="#0a0a0a" stroke-width="2.0" fill="#fff" fill-opacity="0.15">
<circle cx="1542.3" cy="185.1" r="5.2"/>
<circle cx="1524.6" cy="226.1" r="5.2"/>
<circle cx="1547.5" cy="229.3" r="5.2"/>
<circle cx="1550.9" cy="229.8" r="5.2"/>
<circle cx="1504.1" cy="263.8" r="5.2"/>
<circle cx="1554.9" cy="278.9" r="5.2"/>
<circle cx="1506.3" cy="299.6" r="5.2"/>
<circle cx="1529.3" cy="307.6" r="5.2"/>
<circle cx="1524.4" cy="311.1" r="5.2"/>
<circle cx="1521.3" cy="314.6" r="5.2"/>
<circle cx="1540.5" cy="343.3" r="5.2"/>
<circle cx="1555.8" cy="350.2" r="5.2"/>
</g>
<text x="1531.5" y="177.3" font-size="29.3" text-anchor="middle">B</text>
<g stroke="#0a0a0a" stroke-width="2.0" fill="#fff" fill-opacity="0.15">
<circle cx="1686.7" cy="338.0" r="5.2"/>
<circle cx="1707.9" cy="340.8" r="5.2"/>
<circle cx="1707.9" cy="348.9" r="5.2"/>
<circle cx="1657.1" cy="357.9" r="5.2"/>
<circle cx="1651.9" cy="382.2" r="5.2"/>
<circle cx="1688.3" cy="381.2" r="5.2"/>
<circle cx="1672.8" cy="433.3" r="5.2"/>
<circle cx="1689.1" cy="433.8" r="5.2"/>
<circle cx="1660.2" cy="462.4" r="5.2"/>
<circle cx="1705.8" cy="464.2" r="5.2"/>
<circle cx="1666.5" cy="467.5" r="5.2"/>
<circle cx="1677.2" cy="477.2" r="5.2"/>
</g>
<text x="1680.1" y="323.5" font-size="29.3" text-anchor="middle">C</text>
<rect x="77.7" y="6.3" width="493.0" height="532.7" fill="none" stroke="#0a0a0a" stroke-width="2.4"/>
<path d="M77.7,5.1V539.0H571.9" fill="none" stroke="#0a0a0a" stroke-width="3.6" stroke-linejoin="miter"/>
<path d="M70.1,534.2H76.7" stroke="#1a1a1a" stroke-width="2.4"/>
<text x="63.9" y="542.8" font-size="23" text-anchor="end">0</text>
<path d="M70.1,429.4H76.7" stroke="#1a1a1a" stroke-width="2.4"/>
<text x="63.9" y="438.0" font-size="23" text-anchor="end">1</text>
<path d="M70.1,324.7H76.7" stroke="#1a1a1a" stroke-width="2.4"/>
<text x="63.9" y="333.3" font-size="23" text-anchor="end">2</text>
<path d="M70.1,219.9H76.7" stroke="#1a1a1a" stroke-width="2.4"/>
<text x="63.9" y="228.5" font-size="23" text-anchor="end">3</text>
<path d="M70.1,115.2H76.7" stroke="#1a1a1a" stroke-width="2.4"/>
<text x="63.9" y="123.8" font-size="23" text-anchor="end">4</text>
<path d="M70.1,10.4H76.7" stroke="#1a1a1a" stroke-width="2.4"/>
<text x="63.9" y="19.0" font-size="23" text-anchor="end">5</text>
<path d="M170.3,540.0V546.2" stroke="#1a1a1a" stroke-width="2.4"/>
<text x="170.3" y="569.7" font-size="23.4" text-anchor="middle">Asymptomatic</text>
<path d="M324.3,540.0V546.2" stroke="#1a1a1a" stroke-width="2.4"/>
<text x="324.3" y="569.7" font-size="23.4" text-anchor="middle">Banded</text>
<path d="M478.2,540.0V546.2" stroke="#1a1a1a" stroke-width="2.4"/>
<text x="478.2" y="569.7" font-size="23.4" text-anchor="middle">Crinkled</text>
<text x="6.1" y="26.8" font-size="33" font-weight="bold">A</text>
<rect x="708.1" y="6.3" width="461.5" height="532.7" fill="none" stroke="#0a0a0a" stroke-width="2.4"/>
<path d="M708.1,5.1V539.0H1170.8" fill="none" stroke="#0a0a0a" stroke-width="3.6" stroke-linejoin="miter"/>
<path d="M700.5,533.9H707.1" stroke="#1a1a1a" stroke-width="2.4"/>
<text x="694.3" y="542.5" font-size="23" text-anchor="end">0.00</text>
<path d="M700.5,359.3H707.1" stroke="#1a1a1a" stroke-width="2.4"/>
<text x="694.3" y="367.9" font-size="23" text-anchor="end">0.05</text>
<path d="M700.5,184.8H707.1" stroke="#1a1a1a" stroke-width="2.4"/>
<text x="694.3" y="193.4" font-size="23" text-anchor="end">0.10</text>
<path d="M700.5,10.2H707.1" stroke="#1a1a1a" stroke-width="2.4"/>
<text x="694.3" y="18.8" font-size="23" text-anchor="end">0.15</text>
<path d="M794.6,540.0V546.2" stroke="#1a1a1a" stroke-width="2.4"/>
<text x="794.6" y="569.7" font-size="23.4" text-anchor="middle">Asymptomatic</text>
<path d="M938.9,540.0V546.2" stroke="#1a1a1a" stroke-width="2.4"/>
<text x="938.9" y="569.7" font-size="23.4" text-anchor="middle">Banded</text>
<path d="M1083.5,540.0V546.2" stroke="#1a1a1a" stroke-width="2.4"/>
<text x="1083.5" y="569.7" font-size="23.4" text-anchor="middle">Crinkled</text>
<text x="600.2" y="30.0" font-size="33" font-weight="bold">B</text>
<rect x="1294.3" y="6.3" width="474.2" height="532.7" fill="none" stroke="#0a0a0a" stroke-width="2.4"/>
<path d="M1294.3,5.1V539.0H1769.7" fill="none" stroke="#0a0a0a" stroke-width="3.6" stroke-linejoin="miter"/>
<path d="M1286.7,533.9H1293.3" stroke="#1a1a1a" stroke-width="2.4"/>
<text x="1280.5" y="542.5" font-size="23" text-anchor="end">0</text>
<path d="M1286.7,403.0H1293.3" stroke="#1a1a1a" stroke-width="2.4"/>
<text x="1280.5" y="411.6" font-size="23" text-anchor="end">25</text>
<path d="M1286.7,272.1H1293.3" stroke="#1a1a1a" stroke-width="2.4"/>
<text x="1280.5" y="280.7" font-size="23" text-anchor="end">50</text>
<path d="M1286.7,141.1H1293.3" stroke="#1a1a1a" stroke-width="2.4"/>
<text x="1280.5" y="149.7" font-size="23" text-anchor="end">75</text>
<path d="M1286.7,10.2H1293.3" stroke="#1a1a1a" stroke-width="2.4"/>
<text x="1280.5" y="18.8" font-size="23" text-anchor="end">100</text>
<path d="M1383.1,540.0V546.2" stroke="#1a1a1a" stroke-width="2.4"/>
<text x="1383.1" y="569.7" font-size="23.4" text-anchor="middle">Asymptomatic</text>
<path d="M1531.4,540.0V546.2" stroke="#1a1a1a" stroke-width="2.4"/>
<text x="1531.4" y="569.7" font-size="23.4" text-anchor="middle">Banded</text>
<path d="M1679.7,540.0V546.2" stroke="#1a1a1a" stroke-width="2.4"/>
<text x="1679.7" y="569.7" font-size="23.4" text-anchor="middle">Crinkled</text>
<text x="1194.8" y="27.2" font-size="33" font-weight="bold">C</text>
<text transform="translate(31.0,276.0) rotate(-90)" font-size="29"><tspan x="-150.23" y="0">A</tspan><tspan x="-130.08" y="6.3" font-size="20.3" letter-spacing="0.6">net</tspan><tspan x="-92.93" y="0">(µmol</tspan><tspan x="-10.88" y="0">CO</tspan><tspan x="29.14" y="6.3" font-size="20.3">2</tspan><tspan x="49.47" y="0">m</tspan><tspan x="73.64" y="-14.5" font-size="20.3">−</tspan><tspan x="87.98" y="-14.5" font-size="20.3">2</tspan><tspan x="107.31" y="0">s</tspan><tspan x="122.83" y="-14.5" font-size="20.3">−</tspan><tspan x="135.07" y="-14.5" font-size="20.3">1</tspan><tspan x="147.45" y="0">)</tspan></text>
<text transform="translate(630.1,272.7) rotate(-90)" font-size="29"><tspan x="-135.21" y="0">gs (</tspan><tspan x="-87.68" y="0">mol</tspan><tspan x="-32.09" y="0">H</tspan><tspan x="-11.93" y="6.3" font-size="20.3">2</tspan><tspan x="-0.65" y="0">O</tspan><tspan x="29.96" y="0">m</tspan><tspan x="55.83" y="-14.5" font-size="20.3">−</tspan><tspan x="68.97" y="-14.5" font-size="20.3">2</tspan><tspan x="87.00" y="0">s</tspan><tspan x="104.42" y="-14.5" font-size="20.3">−</tspan><tspan x="116.86" y="-14.5" font-size="20.3">1</tspan><tspan x="127.24" y="0">)</tspan></text>
<text transform="translate(1221.6,273.8) rotate(-90)" font-size="29"><tspan x="-157.64" y="0">δ</tspan><tspan x="-135.25" y="0">(</tspan><tspan x="-123.99" y="0">µ</tspan><tspan x="-99.93" y="0">mol</tspan><tspan x="-44.73" y="0">CO</tspan><tspan x="-0.31" y="6.3" font-size="20.3">2</tspan><tspan x="18.11" y="0">/</tspan><tspan x="33.82" y="0">mol</tspan><tspan x="88.62" y="0">H</tspan><tspan x="109.57" y="6.3" font-size="20.3">2</tspan><tspan x="122.15" y="0">O</tspan><tspan x="153.66" y="0">)</tspan></text>
</svg>
</body></html>
